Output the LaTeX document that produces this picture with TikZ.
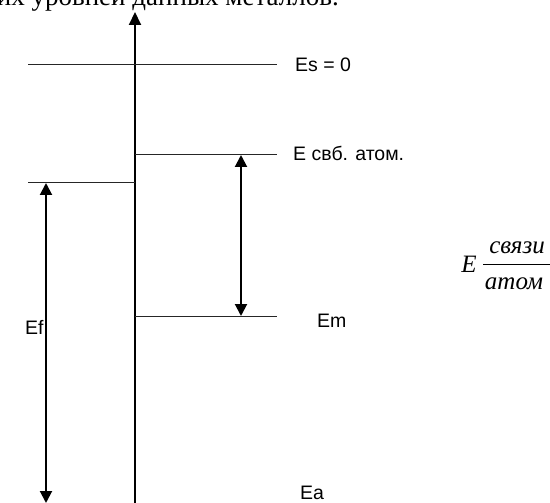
\documentclass[tikz,border=0pt]{standalone}
\usepackage{fontspec}
\setmainfont{Liberation Serif}
\newfontfamily\arialf{Liberation Sans}
\usetikzlibrary{arrows.meta}
\tikzset{
  level/.style={line width=1pt, draw=black!85},
  axisline/.style={line width=2pt},
  darrow/.style={line width=2pt, {Triangle[length=12pt,width=12pt]}-{Triangle[length=12pt,width=12pt]}},
  uarrow/.style={line width=2pt, -{Triangle[length=13pt,width=12pt]}},
  lbl/.style={font=\arialf\fontsize{19.5}{22}\selectfont, inner sep=0pt},
  frm/.style={font=\itshape\fontsize{25}{27}\selectfont, inner sep=0pt}
}
\begin{document}
\begin{tikzpicture}[x=1pt,y=-1pt]
\useasboundingbox (0,0) rectangle (550,503);
% coordinates
\coordinate (axisB) at (135,503);
\coordinate (axisT) at (135,12);
\coordinate (esL) at (28,65);
\coordinate (esR) at (277,65);
\coordinate (ebL) at (135,155);
\coordinate (ebR) at (277,155);
\coordinate (efL) at (28,183);
\coordinate (efR) at (135,183);
\coordinate (emL) at (135,316);
\coordinate (emR) at (277,316);
\coordinate (aT) at (241,155);
\coordinate (aB) at (241,316);
\coordinate (fT) at (46,183);
\coordinate (fB) at (46,503);
% top text (cut off)
\node[anchor=base east, inner sep=0pt, font=\fontsize{27}{29}\selectfont] (title) at (339,6) {их уровней данных металлов.};
% axis
\draw[uarrow] (axisB) -- (axisT);
% levels
\draw[level] (esL) -- (esR);
\draw[level] (ebL) -- (ebR);
\draw[level] (efL) -- (efR);
\draw[level] (emL) -- (emR);
% arrows
\draw[darrow] (aT) -- (aB);
\draw[darrow] (fT) -- (fB);
% labels
\node[lbl, anchor=west] (les) at (295,65) {Es = 0};
\node[lbl, anchor=west] (leb) at (293,153) {E свб. атом.};
\node[lbl, anchor=west] (lem) at (317,321) {Em};
\node[lbl, anchor=west] (lef) at (25,327) {Ef};
\node[lbl, anchor=west] (lea) at (300,493) {Ea};
% formula
\node[frm] (fe) at (469,264) {E};
\node[frm] (fnum) at (517,248) {связи};
\node[frm] (fden) at (514,284) {атом};
\coordinate (barL) at (483,264);
\coordinate (barR) at (550,264);
\draw[line width=1pt] (barL) -- (barR);
\end{tikzpicture}
\end{document}
